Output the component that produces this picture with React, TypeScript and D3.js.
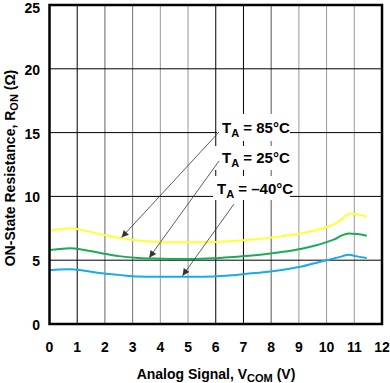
import React from "react";
import * as d3 from "d3";

const xTicks = [0, 1, 2, 3, 4, 5, 6, 7, 8, 9, 10, 11, 12];
const yTicks = [0, 5, 10, 15, 20, 25];

const vcom85 = [0, 0.35, 0.75, 1.2, 1.8, 2.5, 3.2, 3.8, 4.5, 5.2, 5.9, 6.6, 7.2, 7.9, 8.5, 9.1, 9.6, 10.0, 10.3, 10.55, 10.8, 11.1, 11.45];
const ron85 = [7.3, 7.42, 7.5, 7.35, 7.05, 6.75, 6.55, 6.45, 6.4, 6.4, 6.42, 6.5, 6.6, 6.75, 6.92, 7.12, 7.35, 7.6, 7.85, 8.2, 8.65, 8.6, 8.4];

const vcom25 = [0, 0.35, 0.75, 1.2, 1.8, 2.5, 3.2, 3.8, 4.5, 5.2, 5.9, 6.6, 7.2, 7.9, 8.5, 9.1, 9.6, 10.0, 10.3, 10.55, 10.8, 11.1, 11.45];
const ron25 = [5.8, 5.88, 5.93, 5.82, 5.58, 5.32, 5.18, 5.13, 5.1, 5.1, 5.15, 5.25, 5.35, 5.5, 5.68, 5.9, 6.15, 6.42, 6.65, 6.95, 7.1, 7.05, 6.92];

const vcomM40 = [0, 0.35, 0.75, 1.2, 1.8, 2.5, 3.2, 3.8, 4.5, 5.2, 5.9, 6.6, 7.2, 7.9, 8.5, 9.1, 9.6, 10.0, 10.3, 10.55, 10.8, 11.1, 11.45];
const ronM40 = [4.22, 4.28, 4.3, 4.2, 4.0, 3.85, 3.72, 3.7, 3.7, 3.7, 3.72, 3.82, 3.95, 4.1, 4.28, 4.5, 4.78, 5.0, 5.15, 5.3, 5.42, 5.3, 5.18];

const seriesLabels = ["85°C", "25°C", "–40°C"];
const seriesColors = ["#ffff33", "#1aab55", "#19aae8"];
const arrowTargets = [[2.6, 6.78], [3.6, 5.2], [4.8, 3.78]];

const gridColors = ["#000", "#000", "#666", "#777", "#999", "#999", "#000", "#000", "#555", "#999", "#999", "#999", "#000"];

export default function App() {
  const left = 49.5, right = 382, top = 5, bottom = 324;
  const x = d3.scaleLinear().domain([0, 12]).range([left, right]);
  const y = d3.scaleLinear().domain([0, 25]).range([bottom, top]);
  const line = d3.line<[number, number]>().x(d => x(d[0])).y(d => y(d[1])).curve(d3.curveMonotoneX);
  const series = [
    vcom85.map((v, i) => [v, ron85[i]] as [number, number]),
    vcom25.map((v, i) => [v, ron25[i]] as [number, number]),
    vcomM40.map((v, i) => [v, ronM40[i]] as [number, number]),
  ];
  const font = "'Liberation Sans', Arial, Helvetica, sans-serif";
  const labelPos = [
    { x: 222, y: 133, rx: 217, rw: 73, ry: 114, rh: 27, sx: 219, sy: 132 },
    { x: 222, y: 163, rx: 215, rw: 75, ry: 146, rh: 24, sx: 219, sy: 161 },
    { x: 217, y: 194, rx: 213, rw: 77, ry: 176, rh: 24, sx: 234, sy: 204 },
  ];
  return (
    <svg width={390} height={383} style={{ position: "absolute", left: 0, top: 0 }} fontFamily={font}>
      <defs>
        <marker id="ah" viewBox="0 0 10 10" refX="10" refY="5" markerWidth="11" markerHeight="7" orient="auto" markerUnits="userSpaceOnUse">
          <path d="M0,0 L10,5 L0,10 z" fill="#333" />
        </marker>
      </defs>
      <rect x={0} y={0} width={390} height={383} fill="#fff" />
      {xTicks.slice(1, -1).map(t => (
        <line key={"vx" + t} x1={x(t)} x2={x(t)} y1={top} y2={bottom} stroke={gridColors[t]} strokeWidth={1} />
      ))}
      {yTicks.slice(1, -1).map(t => (
        <line key={"hy" + t} x1={left} x2={right} y1={y(t)} y2={y(t)} stroke="#000" strokeWidth={1} />
      ))}
      {labelPos.map((p, i) => (
        <rect key={"lb" + i} x={p.rx} y={p.ry} width={p.rw} height={p.rh} fill="#fff" />
      ))}
      {series.map((s, i) => (
        <path key={"s" + i} d={line(s) || ""} fill="none" stroke={seriesColors[i]} strokeWidth={2} />
      ))}
      {labelPos.map((p, i) => (
        <line key={"ar" + i} x1={p.sx} y1={p.sy} x2={x(arrowTargets[i][0])} y2={y(arrowTargets[i][1])} stroke="#333" strokeWidth={0.8} markerEnd="url(#ah)" />
      ))}
      {labelPos.map((p, i) => (
        <text key={"lt" + i} x={p.x} y={p.y} fontSize={15} fontWeight="bold" fill="#000">
          T<tspan fontSize={11} dy={4}>A</tspan><tspan dy={-4}>{" = " + seriesLabels[i]}</tspan>
        </text>
      ))}
      <rect x={left} y={top} width={right - left} height={bottom - top} fill="none" stroke="#000" strokeWidth={2.5} />
      {xTicks.map(t => (
        <text key={"xt" + t} x={x(t)} y={352} textAnchor="middle" fontSize={14} fontWeight="bold">{t}</text>
      ))}
      {yTicks.map(t => (
        <text key={"yt" + t} x={40} y={Math.max(y(t) + 6, 13)} textAnchor="end" fontSize={14} fontWeight="bold">{t}</text>
      ))}
      <text x={216} y={379} textAnchor="middle" fontSize={14} fontWeight="bold">
        Analog Signal, V<tspan fontSize={11} dy={3}>COM</tspan><tspan dy={-3}> (V)</tspan>
      </text>
      <text transform="translate(15,168) rotate(-90)" textAnchor="middle" fontSize={14} fontWeight="bold">
        ON-State Resistance, R<tspan fontSize={11} dy={3}>ON</tspan><tspan dy={-3}> (Ω)</tspan>
      </text>
    </svg>
  );
}
